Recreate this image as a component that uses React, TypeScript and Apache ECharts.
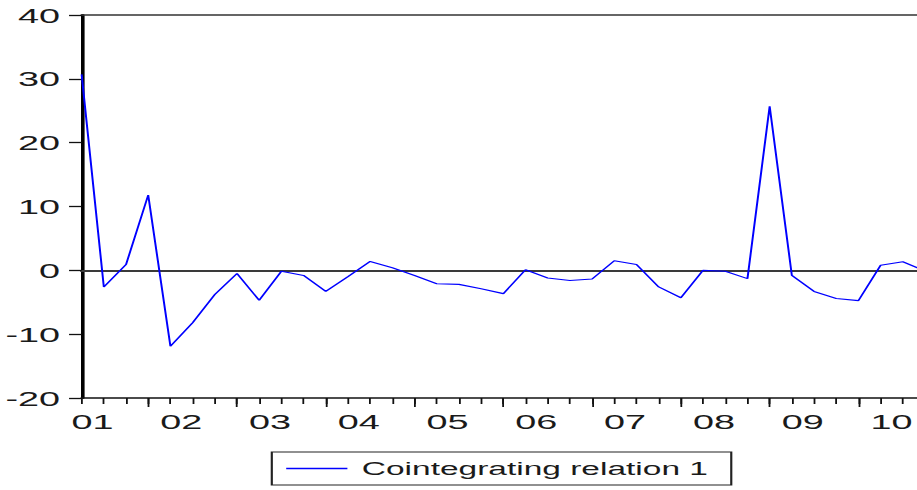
import React, { useEffect, useRef } from "react";
import * as echarts from "echarts";

// Quarterly observations, 2001Q1 .. 2010Q3
const quarters: string[] = [];
for (let y = 2001; y <= 2010; y++) {
  for (let q = 1; q <= 4; q++) {
    if (y === 2010 && q > 3) break;
    quarters.push(`${y}Q${q}`);
  }
}

const seriesName = "Cointegrating relation 1";

const values = [
  30.7, -2.6, 0.9, 11.8, -11.9, -8.2, -3.8, -0.5, -4.7, -0.15,
  -0.8, -3.3, -1.0, 1.4, 0.4, -0.8, -2.1, -2.2, -2.9, -3.65,
  0.1, -1.2, -1.6, -1.35, 1.5, 0.9, -2.6, -4.3, 0.0, -0.15,
  -1.3, 25.7, -0.8, -3.3, -4.4, -4.75, 0.8, 1.35, -0.1,
];

const yTicks = { min: -20, max: 40, interval: 10 };

const yearLabel = (q: string) => q.slice(2, 4);

const SX = 1.8; // horizontal stretch of the reference picture
const W = 540;
const H = 490;
const FONT = "'Liberation Sans', Arial, sans-serif";

export default function App() {
  const ref = useRef<HTMLDivElement>(null);

  useEffect(() => {
    if (!ref.current) return;
    const chart = echarts.init(ref.current, undefined, { renderer: "svg" });
    const labelStyle = { fontFamily: FONT, fontSize: 21, color: "#1a1a1a" };
    chart.setOption({
      animation: false,
      grid: { left: 45, top: 15, width: 468.9, height: 383, containLabel: false },
      legend: {
        data: [seriesName],
        left: 151,
        top: 452,
        selectedMode: false,
        icon: "rect",
        itemWidth: 34,
        itemHeight: 1.3,
        padding: [7, 13, 7, 8],
        borderColor: "#222",
        borderWidth: 1.2,
        textStyle: { fontFamily: FONT, fontSize: 18.6, color: "#1a1a1a", padding: [0, 0, 0, 3] },
      },
      xAxis: [
        {
          type: "category",
          position: "bottom",
          data: quarters,
          boundaryGap: false,
          axisLine: { onZero: false, lineStyle: { color: "#111", width: 1.5 } },
          axisTick: { interval: 0, length: 6, lineStyle: { color: "#111", width: 1 } },
          axisLabel: {
            ...labelStyle,
            interval: (i: number) => i % 4 === 0,
            formatter: (v: string) => yearLabel(v),
            margin: 13,
            padding: [0, 0, 0, 12],
          },
          splitLine: { show: false },
        },
        {
          type: "category",
          position: "bottom",
          data: quarters,
          boundaryGap: false,
          axisLine: { show: false, onZero: false },
          axisTick: { interval: (i: number) => i % 4 === 3, length: 9, lineStyle: { color: "#111", width: 1 } },
          axisLabel: { show: false },
          splitLine: { show: false },
        },
        {
          type: "category",
          position: "bottom",
          data: quarters,
          boundaryGap: false,
          axisLine: { show: true, onZero: true, lineStyle: { color: "#3a3a3a", width: 2 } },
          axisTick: { show: false },
          axisLabel: { show: false },
          splitLine: { show: false },
        },
        {
          type: "category",
          position: "top",
          data: quarters,
          boundaryGap: false,
          axisLine: { show: true, onZero: false, lineStyle: { color: "#333", width: 1.5 } },
          axisTick: { show: false },
          axisLabel: { show: false },
          splitLine: { show: false },
        },
      ],
      yAxis: {
        type: "value",
        min: yTicks.min,
        max: yTicks.max,
        interval: yTicks.interval,
        axisLine: { show: true, lineStyle: { color: "#000", width: 2 } },
        axisTick: { show: true, length: 7, lineStyle: { color: "#111", width: 1.3 } },
        axisLabel: { ...labelStyle, margin: 12 },
        splitLine: { show: false },
      },
      series: [
        {
          name: seriesName,
          type: "line",
          xAxisIndex: 0,
          data: values,
          showSymbol: false,
          symbol: "none",
          lineStyle: { color: "#0000ff", width: 1.1 },
          itemStyle: { color: "#0000ff" },
          z: 3,
        },
      ],
    });
    return () => chart.dispose();
  }, []);

  return (
    <div
      ref={ref}
      style={{
        position: "fixed",
        left: 0,
        top: 0,
        width: W,
        height: H,
        transform: `scaleX(${SX})`,
        transformOrigin: "0 0",
        background: "#fff",
      }}
    />
  );
}
